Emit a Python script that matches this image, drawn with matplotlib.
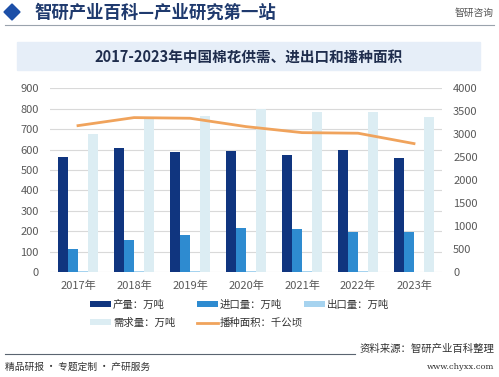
import matplotlib.pyplot as plt
import numpy as np
from matplotlib.patches import Rectangle, Polygon
from matplotlib.lines import Line2D

plt.rcParams['font.family'] = ['Noto Sans CJK SC', 'DejaVu Sans']

years = ['2017年', '2018年', '2019年', '2020年', '2021年', '2022年', '2023年']
production = [565, 609, 588, 591, 572, 600, 560]
imports = [114, 157, 183, 217, 212, 194, 194]
exports = [3, 5, 5, 3, 3, 3, 2]
demand = [676, 748, 766, 799, 784, 784, 758]
area = [3187, 3362, 3348, 3166, 3035, 3022, 2796]

c_prod = '#10357f'
c_imp = '#2e8bd0'
c_exp = '#a6d3ef'
c_dem = '#dcedf3'
c_line = '#f0a35c'
txt = '#595959'

fig = plt.figure(figsize=(4.99, 3.77), dpi=100)
W, H = 499, 377

def px(x, y):
    return x / W, 1 - y / H

# header
fig.patches.append(Polygon([px(4, 12), px(12, 4), px(20, 12), px(12, 20)], closed=True,
                           transform=fig.transFigure, color='#1c4fa8'))
fig.text(*px(34, 13), '智研产业百科—产业研究第一站', fontsize=12.5, color='#1f3a6e',
         va='center', ha='left', fontweight='bold')
fig.text(*px(494, 13), '智研咨询', fontsize=7, color='#555555', va='center', ha='right')
fig.add_artist(Line2D([5 / W, 494 / W], [1 - 25 / H] * 2, color='#9aa3ad', lw=0.8))

# title banner
fig.patches.append(Rectangle(px(17, 70), 463 / W, 28 / H, transform=fig.transFigure,
                             color='#e6eef8', zorder=0))
fig.text(*px(249, 57), '2017-2023年中国棉花供需、进出口和播种面积', fontsize=10.5,
         color='#1f2d4d', ha='center', va='center', fontweight='bold')

ax = fig.add_axes([50 / W, 1 - 272 / H, 392 / W, (272 - 88.3) / H])
ax2 = ax.twinx()

x = np.arange(len(years))
w = 0.18
b1 = ax.bar(x - 1.5 * w, production, w, color=c_prod, zorder=3)
b2 = ax.bar(x - 0.5 * w, imports, w, color=c_imp, zorder=3)
b3 = ax.bar(x + 0.5 * w, exports, w, color=c_exp, zorder=3)
b4 = ax.bar(x + 1.5 * w, demand, w, color=c_dem, zorder=3)
ln, = ax2.plot(x, area, color=c_line, lw=2)

ax.set_xlim(-0.5, 6.5)
ax.set_ylim(0, 900)
ax.set_yticks(range(0, 901, 100))
ax2.set_ylim(0, 4000)
ax2.set_yticks(range(0, 4001, 500))
ax.set_xticks(x)
ax.set_xticklabels(years)
ax.yaxis.grid(True, color='#d9d9d9', lw=0.8, zorder=0)
ax.set_axisbelow(True)
for a in (ax, ax2):
    for s in a.spines.values():
        s.set_visible(False)
    a.tick_params(length=0, labelsize=8, colors=txt)
ax.tick_params(axis='x', pad=6)
ax.tick_params(axis='y', pad=8)
ax2.tick_params(axis='y', pad=8)

# legend, entries placed on a fixed grid like the original
handles = [b1, b2, b3, b4, ln]
labels = ['产量：万吨', '进口量：万吨', '出口量：万吨', '需求量：万吨', '播种面积：千公顷']
spots = [(90, 305), (197, 305), (304, 305), (90, 323), (197, 323)]
for h, lab, (sx, sy) in zip(handles, labels, spots):
    fig.legend([h], [lab], loc='center left', bbox_to_anchor=px(sx, sy),
               frameon=False, fontsize=7.5, handlelength=2.0, handleheight=0.5,
               labelcolor='#333333', handletextpad=0.2, borderpad=0, borderaxespad=0)

# footer
fig.add_artist(Line2D([5 / W, 355 / W], [1 - 354 / H] * 2, color='#5a6470', lw=0.8))
fig.text(*px(494, 349), '资料来源：智研产业百科整理', fontsize=7.5, color='#333333',
         ha='right', va='center')
fig.text(*px(494, 367), 'www.chyxx.com', fontsize=6, color='#333333', ha='right',
         va='center', family=['DejaVu Serif'])
fig.text(*px(5, 367), '精品研报 · 专题定制 · 产研服务', fontsize=7, color='#333333',
         ha='left', va='center')

fig.savefig('out.png', dpi=100)
